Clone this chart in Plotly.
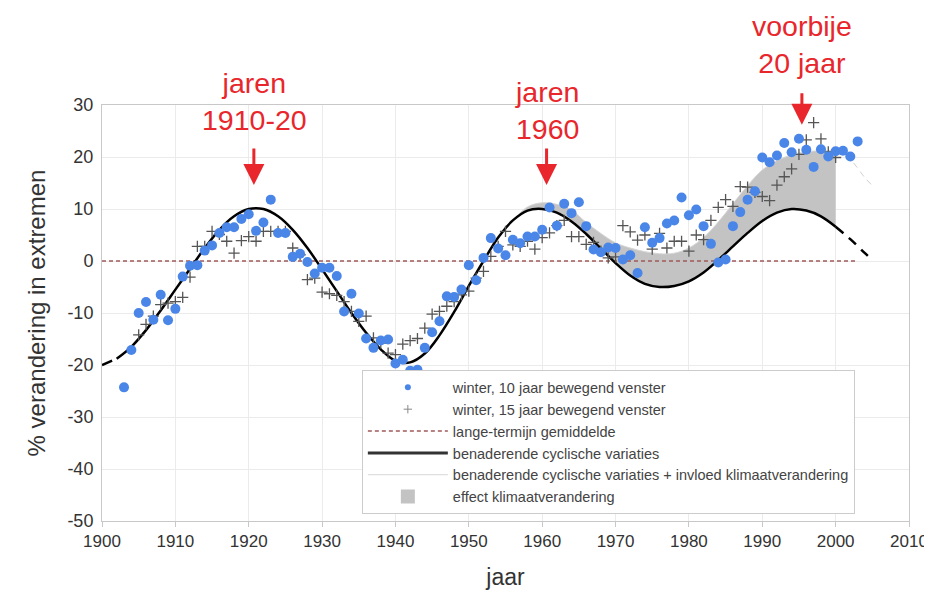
import plotly.graph_objects as go

# ---- data ----
blue_years = list(range(1903, 2004))
blue_vals = [-24.3, -17.1, -10.0, -7.9, -11.3, -6.5, -11.4, -9.2, -3.0, -0.9,
             -0.8, 2.0, 3.0, 5.4, 6.5, 6.5, 8.1, 9.0, 5.8, 7.4,
             11.8, 5.4, 5.4, 0.8, 1.4, -0.2, -2.4, -1.3, -1.3, -2.9,
             -9.7, -6.3, -10.1, -14.9, -16.7, -15.3, -15.1, -19.7, -19.0, -21.1,
             -20.9, -16.7, -13.7, -11.6, -6.8, -6.9, -5.5, -0.8, -3.7, 0.6,
             4.4, 2.4, 1.1, 4.1, 3.4, 4.7, 4.7, 6.0, 10.3, 6.8,
             11.0, 9.2, 11.3, 6.7, 2.2, 1.7, 2.6, 2.5, 0.3, 1.1,
             -2.3, 6.5, 3.5, 4.4, 7.2, 7.8, 12.2, 8.8, 9.9, 6.7,
             3.3, -0.3, 0.3, 6.7, 9.4, 11.8, 13.4, 19.9, 19.0, 20.3,
             22.7, 20.9, 23.5, 21.4, 18.1, 21.5, 20.1, 21.1, 21.2, 20.1,
             23.0]

cross_years = list(range(1905, 2001))
cross_vals = [-14.2, -12.2, -10.6, -8.4, -8.1, -7.8, -7.0, -3.1, 2.8, 2.8,
              5.7, 5.1, 3.8, 1.5, 3.9, 4.7, 3.8, 5.7, 5.7, 5.7,
              5.7, 2.5, 1.2, -3.6, -3.3, -6.0, -6.3, -6.6, -7.8, -9.7,
              -11.6, -10.6, -14.8, -15.8, -17.7, -18.0, -16.0, -15.3, -14.9, -12.9,
              -10.2, -9.7, -8.7, -7.8, -6.5, -5.8, -3.3, -2.0, 0.9, 2.8,
              5.7, 3.1, 2.8, 3.8, 2.3, 4.5, 5.4, 6.8, 7.8, 4.7,
              4.7, 3.2, 3.6, 1.9, 0.6, 0.8, 6.8, 5.6, 4.0, 5.0,
              2.3, 5.3, 2.5, 3.8, 3.8, 1.9, 5.0, 4.1, 7.8, 10.3,
              11.8, 10.5, 14.3, 14.2, 13.2, 12.4, 11.6, 14.6, 16.2, 17.7,
              20.5, 23.3, 26.6, 23.5, 21.0, 19.9]

mean_years = [1900, 2003]
mean_vals = [0, 0]

cyc_years = [1900, 1902, 1904, 1906, 1908, 1910, 1912, 1914, 1916, 1918,
             1920, 1922, 1924, 1926, 1928, 1930, 1932, 1934, 1936, 1938,
             1940, 1942, 1944, 1946, 1948, 1950, 1952, 1954, 1956, 1958,
             1960, 1962, 1964, 1966, 1968, 1970, 1972, 1974, 1976, 1978,
             1980, 1982, 1984, 1986, 1988, 1990, 1992, 1994, 1996, 1998,
             2000, 2002, 2004, 2005]
cyc_vals = [-20, -18.8, -16.5, -13.3, -9.5, -5.5, -1.5, 2.5, 6.0, 8.6,
            10.0, 10.0, 8.6, 6.0, 2.5, -1.6, -5.8, -10.0, -13.8, -17.0,
            -19.2, -19.5, -17.8, -14.3, -9.8, -4.8, 0.0, 4.5, 7.8, 9.7,
            10.0, 9.3, 7.6, 5.2, 2.4, -0.4, -2.8, -4.4, -5.0, -4.8,
            -3.9, -2.2, 0.2, 2.8, 5.4, 7.7, 9.3, 10.0, 9.7, 8.6,
            6.6, 4.2, 1.5, 0.2]

clim_years = [1956, 1958, 1960, 1962, 1964, 1966, 1968, 1970, 1972, 1974,
              1976, 1978, 1980, 1982, 1984, 1986, 1988, 1990, 1992, 1994,
              1996, 1998, 2000, 2002, 2004, 2005]
clim_vals = [7.8, 10.4, 11.2, 10.9, 9.8, 7.4, 5.3, 3.5, 2.5, 1.8,
             1.4, 1.5, 2.5, 4.5, 7.5, 11.0, 14.5, 17.5, 19.3, 20.4,
             21.0, 21.2, 21.3, 19.5, 16.0, 14.5]

x_ticks = list(range(1900, 2011, 10))
y_ticks = list(range(-50, 31, 10))

legend_names = ["winter, 10 jaar bewegend venster",
                "winter, 15 jaar bewegend venster",
                "lange-termijn gemiddelde",
                "benaderende cyclische variaties",
                "benaderende cyclische variaties + invloed klimaatverandering",
                "effect klimaatverandering"]

# ---- styles ----
RED = "#e8262b"
BLUE = "#4a86e8"
FILLC = "#c3c3c3"
FONT = "Liberation Sans, Arial, sans-serif"


def sel(xs, ys, lo, hi):
    pts = [(a, b) for a, b in zip(xs, ys) if lo <= a <= hi]
    return [p[0] for p in pts], [p[1] for p in pts]


fig = go.Figure()

# shaded climate effect (between cyclic curve and cyclic+climate curve)
bx, by = sel(cyc_years, cyc_vals, 1956, 2000)
fig.add_trace(go.Scatter(x=bx, y=by, mode="lines", line=dict(width=0, shape="spline"),
                         showlegend=False, hoverinfo="skip"))
ux, uy = sel(clim_years, clim_vals, 1956, 2000)
fig.add_trace(go.Scatter(x=ux, y=uy, mode="lines", fill="tonexty", fillcolor=FILLC,
                         line=dict(color="#d6d6d6", width=1, shape="spline"),
                         showlegend=False))
ux2, uy2 = sel(clim_years, clim_vals, 2000, 2005)
fig.add_trace(go.Scatter(x=ux2, y=uy2, mode="lines",
                         line=dict(color="#d0d0d0", width=1, dash="6px,5px", shape="spline"),
                         showlegend=False))

# long-term mean
fig.add_trace(go.Scatter(x=mean_years, y=mean_vals, mode="lines",
                         line=dict(color="#9e5a5a", width=1.6, dash="4px,3px"),
                         showlegend=False))

# cyclic curve
lx, ly = sel(cyc_years, cyc_vals, 1900, 1902)
fig.add_trace(go.Scatter(x=lx, y=ly, mode="lines",
                         line=dict(color="black", width=2.5, dash="11px,8px"),
                         showlegend=False))
mx, my = sel(cyc_years, cyc_vals, 1902, 2000)
fig.add_trace(go.Scatter(x=mx, y=my, mode="lines",
                         line=dict(color="black", width=2.5, shape="spline"),
                         showlegend=False))
rx, ry = sel(cyc_years, cyc_vals, 2000, 2005)
fig.add_trace(go.Scatter(x=rx, y=ry, mode="lines",
                         line=dict(color="black", width=2.5, dash="10px,7px", shape="spline"),
                         showlegend=False))

# 15-year window crosses
fig.add_trace(go.Scatter(x=cross_years, y=cross_vals, mode="markers",
                         marker=dict(symbol="cross-thin", size=8,
                                     line=dict(color="#555555", width=1.3)),
                         showlegend=False))
# 10-year window dots
fig.add_trace(go.Scatter(x=blue_years, y=blue_vals, mode="markers",
                         marker=dict(color=BLUE, size=10), showlegend=False))

# legend-only entries
fig.add_trace(go.Scatter(x=[None], y=[None], mode="markers", name=legend_names[0],
                         marker=dict(color=BLUE, size=6)))
fig.add_trace(go.Scatter(x=[None], y=[None], mode="markers", name=legend_names[1],
                         marker=dict(symbol="cross-thin", size=6,
                                     line=dict(color="#888888", width=1))))
fig.add_trace(go.Scatter(x=[None], y=[None], mode="lines", name=legend_names[2],
                         line=dict(color="#9e5a5a", width=1.6, dash="4px,3px")))
fig.add_trace(go.Scatter(x=[None], y=[None], mode="lines", name=legend_names[3],
                         line=dict(color="#333333", width=3)))
fig.add_trace(go.Scatter(x=[None], y=[None], mode="lines", name=legend_names[4],
                         line=dict(color="#d6d6d6", width=1)))
fig.add_trace(go.Scatter(x=[None], y=[None], mode="markers", name=legend_names[5],
                         marker=dict(symbol="square", size=14, color=FILLC)))

# annotations
texts = [("jaren<br>1910-20", 1920.8, 1.008),
         ("jaren<br>1960", 1960.6, 0.986),
         ("voorbije<br>20 jaar", 1995.4, 1.145)]
for t, xx, yy in texts:
    fig.add_annotation(x=xx, y=yy, xref="x", yref="paper", text=t, showarrow=False,
                       font=dict(family=FONT, size=28.5, color=RED),
                       xanchor="center", yanchor="middle")
arrows = [(1920.7, 14.6, -38), (1960.6, 14.6, -38), (1995.4, 26.2, -33)]
for xx, yy, ay in arrows:
    fig.add_annotation(x=xx, y=yy, xref="x", yref="y", text="", showarrow=True,
                       ax=0, ay=ay, arrowhead=2, arrowsize=1.4, arrowwidth=3,
                       arrowcolor=RED)

fig.update_layout(
    width=932, height=590,
    margin=dict(l=94, r=25, t=97, b=76),
    paper_bgcolor="white", plot_bgcolor="white",
    font=dict(family=FONT, color="#333333"),
    showlegend=True,
    legend=dict(x=0.322, y=0.362, xanchor="left", yanchor="top",
                bgcolor="white", bordercolor="#cccccc", borderwidth=1,
                font=dict(size=14.5, color="#444444"), itemwidth=80,
                traceorder="normal", tracegroupgap=0),
    xaxis=dict(range=[1900, 2010], tickvals=x_ticks, showgrid=True,
               gridcolor="#ebebeb", zeroline=False, showline=True,
               linecolor="#c8c8c8", mirror=True, ticks="outside", ticklen=5,
               tickcolor="#c8c8c8", tickfont=dict(size=17, color="#333333"),
               title=dict(text="jaar", font=dict(size=23, color="#333333"), standoff=18)),
    yaxis=dict(range=[-50, 30], tickvals=y_ticks, ticktext=[str(v) for v in y_ticks],
               showgrid=True,
               gridcolor="#ebebeb", zeroline=False, showline=True,
               linecolor="#c8c8c8", mirror=True, ticks="outside", ticklen=4,
               tickcolor="white", tickfont=dict(size=18, color="#333333"),
               title=dict(text="% verandering in extremen",
                          font=dict(size=24, color="#333333"), standoff=14)),
)

fig.write_html("out.html")
